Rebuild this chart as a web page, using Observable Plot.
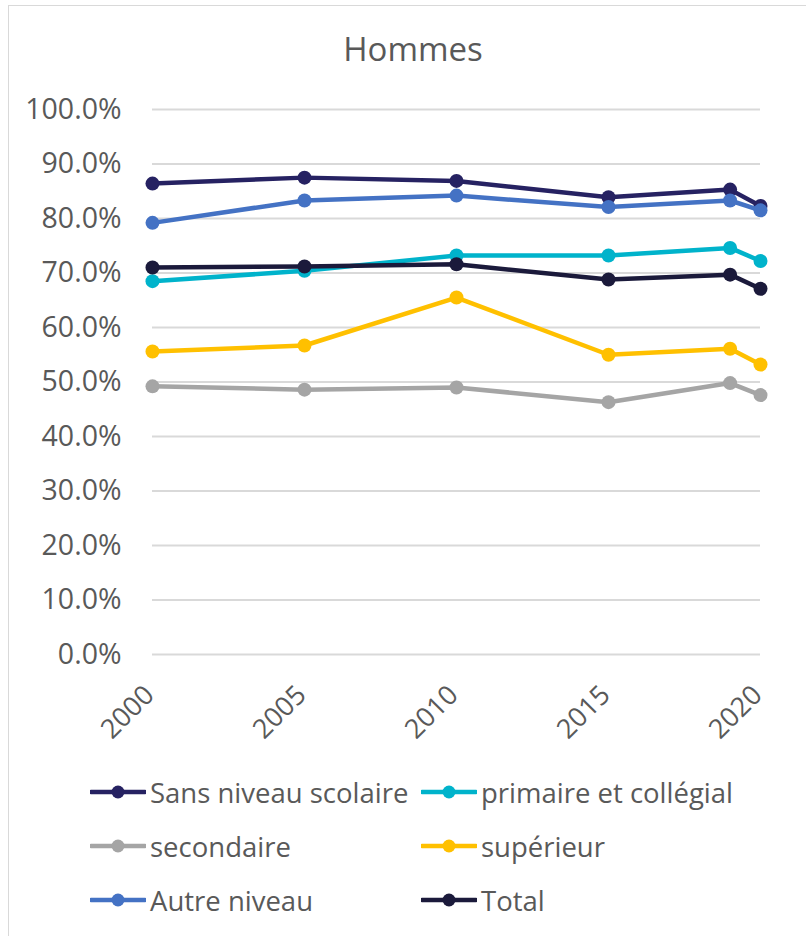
<!DOCTYPE html>
<html>
<head>
<meta charset="utf-8">
<script src="https://cdn.jsdelivr.net/npm/d3@7"></script>
<script src="https://cdn.jsdelivr.net/npm/@observablehq/plot@0.6"></script>
<style>
  body { margin: 0; background: #fff; font-family: "Open Sans", sans-serif; }
  #wrap { position: relative; width: 806px; height: 936px; overflow: hidden; }
  #frame { position: absolute; left: 8px; top: 5px; width: 820px; height: 960px; border: 1.5px solid #d9d9d9; box-sizing: border-box; }
  #title { position: absolute; left: 0; width: 826px; top: 26px; text-align: center; font-size: 33px; color: #595959; }
  #chart { position: absolute; left: 0; top: 0; }
  #legend { position: absolute; left: 0; top: 0; width: 806px; height: 936px; pointer-events: none; }
  .item { position: absolute; display: flex; align-items: center; font-size: 27.5px; color: #595959; white-space: nowrap; }
  .item svg { margin-right: 4px; }
</style>
</head>
<body>
<div id="wrap">
  <div id="frame"></div>
  <div id="title">Hommes</div>
  <div id="chart"></div>
  <div id="legend"></div>
</div>
<script>
const years = [2000, 2005, 2010, 2015, 2019, 2020];
const seriesNames = ["Sans niveau scolaire", "primaire et collégial", "secondaire", "supérieur", "Autre niveau", "Total"];
const sansNiveau = [86.4, 87.5, 86.9, 83.9, 85.3, 82.3];
const primaire   = [68.5, 70.4, 73.2, 73.2, 74.6, 72.2];
const secondaire = [49.2, 48.6, 49.0, 46.3, 49.8, 47.6];
const superieur  = [55.6, 56.7, 65.5, 55.0, 56.1, 53.2];
const autre      = [79.2, 83.3, 84.2, 82.1, 83.3, 81.5];
const total      = [71.0, 71.2, 71.6, 68.8, 69.7, 67.1];
const colors = ["#262262", "#00b3cb", "#a5a5a5", "#ffc000", "#4472c4", "#1b1a3b"];
const xTicks = [2000, 2005, 2010, 2015, 2020];
const yTicks = [0, 10, 20, 30, 40, 50, 60, 70, 80, 90, 100];

const allSeries = [sansNiveau, primaire, secondaire, superieur, autre, total];
const data = [];
allSeries.forEach((vals, i) => {
  vals.forEach((v, j) => data.push({ serie: seriesNames[i], year: years[j], value: v }));
});

const chart = Plot.plot({
  width: 806,
  height: 760,
  marginTop: 109,
  marginBottom: 106,
  marginLeft: 152,
  marginRight: 46,
  style: { fontFamily: "'Open Sans', sans-serif", fontSize: "27px", color: "#595959", background: "transparent", overflow: "visible" },
  x: { domain: [2000, 2020] },
  y: { domain: [0, 100] },
  color: { domain: seriesNames, range: colors },
  marks: [
    Plot.gridY(yTicks, { stroke: "#d9d9d9", strokeOpacity: 1, strokeWidth: 2 }),
    Plot.axisY(yTicks, { tickSize: 0, tickPadding: 31, tickFormat: d => d.toFixed(1) + "%", fill: "#595959", label: null, fontSize: 28.5 }),
    Plot.axisX(xTicks, { tickSize: 0, tickRotate: -45, tickPadding: 36, dx: -3, tickFormat: d => String(d), fill: "#595959", label: null, fontSize: 27 }),
    ...seriesNames.map((name, i) => [
      Plot.line(data.filter(d => d.serie === name), { x: "year", y: "value", stroke: colors[i], strokeWidth: 4.5 }),
      Plot.dot(data.filter(d => d.serie === name), { x: "year", y: "value", fill: colors[i], r: 7 })
    ]).flat()
  ]
});
document.getElementById("chart").appendChild(chart);

const legendPos = [
  [90, 792], [421, 792],
  [90, 846], [421, 846],
  [90, 900], [421, 900]
];
const legend = document.getElementById("legend");
seriesNames.forEach((name, i) => {
  const el = document.createElement("div");
  el.className = "item";
  el.style.left = legendPos[i][0] + "px";
  el.style.top = (legendPos[i][1] - 20) + "px";
  el.style.height = "40px";
  el.innerHTML = `<svg width="56" height="16"><line x1="1" y1="8" x2="55" y2="8" stroke="${colors[i]}" stroke-width="4.5" stroke-linecap="round"/><circle cx="28" cy="8" r="6.5" fill="${colors[i]}"/></svg><span>${name}</span>`;
  legend.appendChild(el);
});
</script>
</body>
</html>
